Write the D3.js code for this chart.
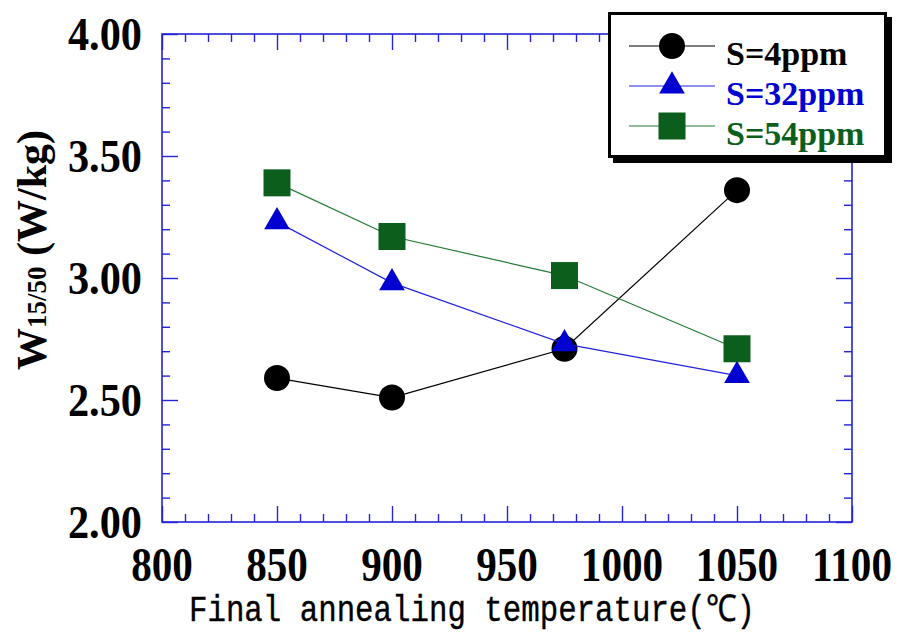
<!DOCTYPE html>
<html lang="en">
<head>
  <meta charset="UTF-8">
  <script src="https://d3js.org/d3.v7.min.js"></script>
  <style>
    body { margin: 0; background: #fff; }
    .frame { fill: none; stroke: #2424d8; stroke-width: 1.6px; }
    .tick line { stroke: #2424d8; stroke-width: 1.4px; }
    .domain { display: none; }
    .num { font-family: "Liberation Serif", "Times New Roman", serif; font-weight: bold; fill: #000; }
  </style>
</head>
<body>
<script>
// data
const temps = [850, 900, 975, 1050];
const s4 = [2.59, 2.51, 2.71, 3.36];
const s32 = [3.23, 2.98, 2.73, 2.60];
const s54 = [3.39, 3.17, 3.01, 2.71];
const seriesNames = ["S=4ppm", "S=32ppm", "S=54ppm"];
const xTicks = [800, 850, 900, 950, 1000, 1050, 1100];
const yTicks = [2.0, 2.5, 3.0, 3.5, 4.0];

const W = 904, H = 632;
const pLeft = 162, pRight = 852, pTop = 34, pBottom = 522;

const svg = d3.select("body").append("svg")
  .attr("width", W)
  .attr("height", H);

const x = d3.scaleLinear().domain([800, 1100]).range([pLeft, pRight]);
const y = d3.scaleLinear().domain([2, 4]).range([pBottom, pTop]);

const xMinor = d3.range(800, 1101, 10).filter(v => v % 50 !== 0);
const yMinor = d3.range(20, 41, 1).map(v => v / 10).filter(v => Math.round(v * 10) % 5 !== 0);

// ticks, all pointing inward
function addAxis(axis, tx, ty) {
  svg.append("g").attr("transform", `translate(${tx},${ty})`).call(axis);
}
addAxis(d3.axisBottom(x).tickValues(xTicks).tickSize(-16).tickFormat(""), 0, pBottom);
addAxis(d3.axisBottom(x).tickValues(xMinor).tickSize(-8).tickFormat(""), 0, pBottom);
addAxis(d3.axisTop(x).tickValues(xTicks).tickSize(-16).tickFormat(""), 0, pTop);
addAxis(d3.axisTop(x).tickValues(xMinor).tickSize(-8).tickFormat(""), 0, pTop);
addAxis(d3.axisLeft(y).tickValues(yTicks).tickSize(-16).tickFormat(""), pLeft, 0);
addAxis(d3.axisLeft(y).tickValues(yMinor).tickSize(-8).tickFormat(""), pLeft, 0);
addAxis(d3.axisRight(y).tickValues(yTicks).tickSize(-16).tickFormat(""), pRight, 0);
addAxis(d3.axisRight(y).tickValues(yMinor).tickSize(-8).tickFormat(""), pRight, 0);

svg.append("rect").attr("class", "frame")
  .attr("x", pLeft).attr("y", pTop)
  .attr("width", pRight - pLeft).attr("height", pBottom - pTop);

// tick labels
svg.selectAll(".xl").data(xTicks).enter().append("text")
  .attr("class", "num")
  .attr("text-anchor", "middle")
  .attr("font-size", 49)
  .attr("transform", d => `translate(${x(d)},581) scale(0.84,1)`)
  .text(d => d);

svg.selectAll(".yl").data(yTicks).enter().append("text")
  .attr("class", "num")
  .attr("text-anchor", "end")
  .attr("font-size", 46)
  .attr("transform", d => `translate(142,${y(d) + 16}) scale(0.92,1)`)
  .text(d => d.toFixed(2));

// axis titles
const yt = svg.append("text")
  .attr("class", "num")
  .attr("text-anchor", "middle")
  .attr("font-size", 42)
  .attr("transform", "translate(46,250) rotate(-90)");
yt.append("tspan").attr("font-family", "Liberation Serif").text("W");
yt.append("tspan").attr("font-family", "Liberation Serif").attr("font-size", 27).text("15/50");
yt.append("tspan").attr("font-family", "Liberation Serif").text(" (W/kg)");

svg.append("text")
  .attr("x", 472).attr("y", 621)
  .attr("text-anchor", "middle")
  .attr("font-family", "'Liberation Mono', 'DejaVu Sans Mono', monospace")
  .attr("font-size", 37)
  .attr("stroke", "#000")
  .attr("stroke-width", 0.4)
  .attr("textLength", 566)
  .attr("lengthAdjust", "spacingAndGlyphs")
  .text("Final annealing temperature(℃)");

// series
const series = [
  { name: seriesNames[0], vals: s4, color: "#000000", line: "#000000", shape: "circle" },
  { name: seriesNames[1], vals: s32, color: "#0000d0", line: "#2222dd", shape: "triangle" },
  { name: seriesNames[2], vals: s54, color: "#0b5e1b", line: "#237a33", shape: "square" }
];

const symbols = {
  circle: d3.symbol().type(d3.symbolCircle).size(Math.PI * 13 * 13),
  triangle: d3.symbol().type(d3.symbolTriangle).size(26 * 22 / 2),
  square: d3.symbol().type(d3.symbolSquare).size(27 * 27)
};

const line = d3.line().x(d => x(d[0])).y(d => y(d[1]));

series.forEach(s => {
  const pts = temps.map((t, i) => [t, s.vals[i]]);
  svg.append("path")
    .attr("d", line(pts))
    .attr("fill", "none")
    .attr("stroke", s.line)
    .attr("stroke-width", 1.2);
  svg.selectAll(null).data(pts).enter().append("path")
    .attr("d", symbols[s.shape]())
    .attr("transform", d => `translate(${x(d[0])},${y(d[1])})`)
    .attr("fill", s.color);
});

// legend
const lg = svg.append("g");
lg.append("rect").attr("x", 613).attr("y", 17).attr("width", 279).attr("height", 146).attr("fill", "#000");
lg.append("rect").attr("x", 609.5).attr("y", 13.5).attr("width", 276).attr("height", 143)
  .attr("fill", "#fff").attr("stroke", "#000").attr("stroke-width", 3);

const rowY = [46, 86, 126];
series.forEach((s, i) => {
  lg.append("line")
    .attr("x1", 629).attr("x2", 715)
    .attr("y1", rowY[i]).attr("y2", rowY[i])
    .attr("stroke", s.line).attr("stroke-width", 1.2);
  lg.append("path")
    .attr("d", symbols[s.shape]())
    .attr("transform", `translate(672,${rowY[i]})`)
    .attr("fill", s.color);
  lg.append("text")
    .attr("class", "num")
    .attr("x", 726).attr("y", rowY[i] + 19)
    .attr("font-size", 34)
    .style("fill", s.color)
    .text(s.name);
});
</script>
</body>
</html>
